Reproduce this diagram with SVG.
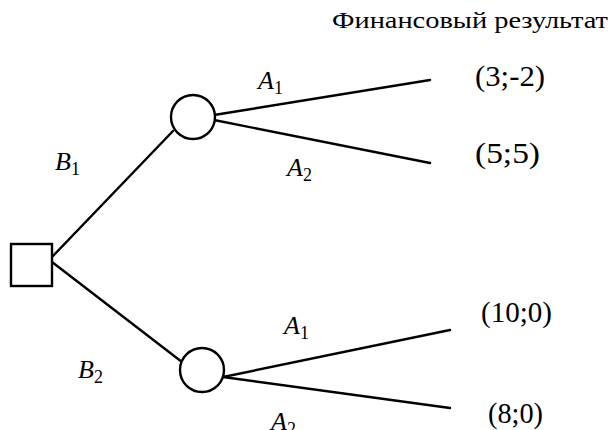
<svg xmlns="http://www.w3.org/2000/svg" width="610" height="430" viewBox="0 0 610 430">
<rect width="610" height="430" fill="#fff"/>
<g id="connectors" stroke="#000" stroke-width="2.4" fill="none" stroke-linecap="round">
<line x1="52" y1="257" x2="173" y2="131"/>
<line x1="52" y1="262" x2="182" y2="362"/>
<line x1="214" y1="115" x2="430" y2="80"/>
<line x1="214" y1="120" x2="430" y2="163"/>
<line x1="223" y1="377" x2="450" y2="330"/>
<line x1="223" y1="377" x2="450" y2="408"/>
</g>
<g id="decision"><rect x="11" y="244" width="41" height="42" stroke="#000" stroke-width="2.4" fill="#fff"/></g>
<g id="chance1"><circle cx="193" cy="117" r="22" stroke="#000" stroke-width="2.4" fill="#fff"/></g>
<g id="chance2"><circle cx="202" cy="370" r="22" stroke="#000" stroke-width="2.4" fill="#fff"/></g>
<g id="labels" font-family="'Liberation Serif', serif" font-size="26" font-style="italic">
<text x="55" y="170">B<tspan font-size="18" font-style="normal" y="175">1</tspan></text>
<text x="78" y="378">B<tspan font-size="18" font-style="normal" y="383">2</tspan></text>
<text x="258" y="89">A<tspan font-size="18" font-style="normal" y="94">1</tspan></text>
<text x="287" y="176">A<tspan font-size="18" font-style="normal" y="181">2</tspan></text>
<text x="284" y="334">A<tspan font-size="18" font-style="normal" y="339">1</tspan></text>
<text x="271" y="430">A<tspan font-size="18" font-style="normal" y="435">2</tspan></text>
</g>
<g id="results" font-family="'Liberation Serif', serif">
<text x="332" y="28" font-size="24" textLength="276" lengthAdjust="spacingAndGlyphs">Финансовый результат</text>
<text x="475" y="86" font-size="29" textLength="70" lengthAdjust="spacingAndGlyphs">(3;-2)</text>
<text x="475" y="163" font-size="29" textLength="65" lengthAdjust="spacingAndGlyphs">(5;5)</text>
<text x="481" y="322" font-size="29" textLength="71" lengthAdjust="spacingAndGlyphs">(10;0)</text>
<text x="488" y="423" font-size="29" textLength="55" lengthAdjust="spacingAndGlyphs">(8;0)</text>
</g>
</svg>
